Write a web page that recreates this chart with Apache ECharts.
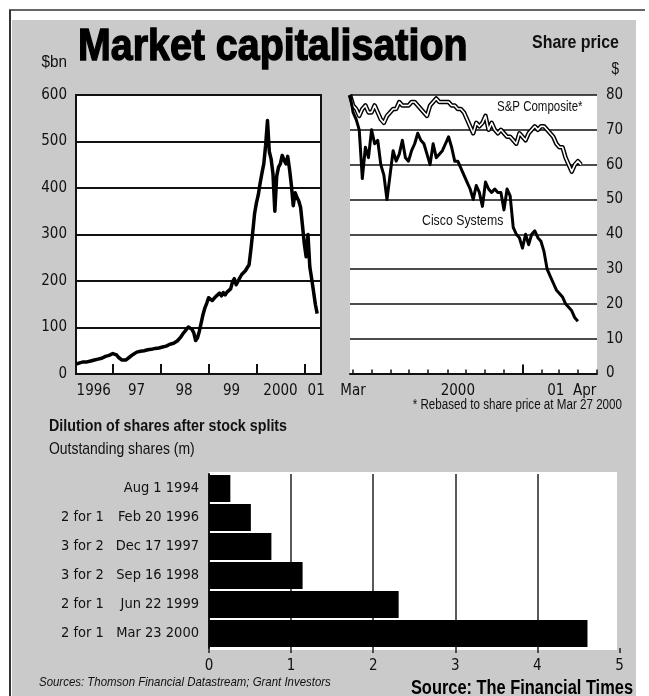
<!DOCTYPE html>
<html><head><meta charset="utf-8">
<script src="https://cdn.jsdelivr.net/npm/echarts@6/dist/echarts.min.js"></script>
<style>html,body{margin:0;padding:0;background:#fff}#c{width:649px;height:696px}</style>
</head><body><div id="c"></div>
<script>
// ---- Market capitalisation, $bn (sampled every 14 days from 26 Mar 1996)
const capStart = Date.UTC(1996, 2, 26);
const capStepDays = 14;
const capValues = [21,22,24,23,26,27,26,29,28,31,30,33,32,35,34,36,38,37,40,42,
  44,47,41,36,33,30,28,30,33,36,39,42,44,47,46,49,48,50,49,52,
  50,53,52,55,53,56,55,58,57,60,62,64,63,66,68,71,75,80,86,91,
  96,101,98,96,88,72,78,92,110,128,142,152,164,166,158,161,167,170,174,168,
  175,170,176,180,183,198,205,192,196,207,214,218,222,226,235,268,305,345,368,385,
  410,432,452,492,545,478,462,430,350,425,445,452,470,460,452,468,440,405,362,390,
  380,372,358,320,280,252,300,230,205,178,150,130];
const capXLabels = ['1996', '97', '98', '99', '2000', '01'];

// ---- Share price, $ (sampled every 5 days from 27 Mar 2000)
const priceStart = Date.UTC(2000, 2, 27);
const priceStepDays = 5;
const ciscoPrice = [80,75,73,70,56,65,62,70,66,67,60,57,50,57,64,61,63,67,62,61,
  64,66,69,67,66,63,60,66,62,63,64,66,68,65,61,61,59,57,55,53,
  50,54,52,48,55,53,52,53,52,52,47,53,51,42,40,39,36,40,37,40,
  41,39,38,35,30,28,26,24,23,22,20,19,18,16,15];
const spComposite = [80,77,76,74,76,77,75,75,77,75,73,72,74,75,76,76,78,77,77,77,
  78,78,77,76,75,74,77,78,79,78,78,78,78,77,77,76,76,75,73,71,
  69,72,71,72,74,70,72,70,69,70,69,68,68,67,66,69,68,67,69,70,
  71,70,71,71,70,69,68,66,65,65,62,60,58,60,61,60];
const priceXLabels = ['Mar', '2000', '01', 'Apr'];

// ---- Dilution of shares after stock splits
const splitRatios = ['', '2 for 1', '3 for 2', '3 for 2', '2 for 1', '2 for 1'];
const splitDates = ['Aug 1 1994', 'Feb 20 1996', 'Dec 17 1997', 'Sep 16 1998', 'Jun 22 1999', 'Mar 23 2000'];
const sharesOutstanding = [0.26, 0.51, 0.76, 1.14, 2.31, 4.61];

// ---- build
const DAY = 86400000;
const capData = capValues.map((v, i) => [capStart + i * capStepDays * DAY, v]);
const ciscoData = ciscoPrice.map((v, i) => [priceStart + i * priceStepDays * DAY, v]);
const spData = spComposite.map((v, i) => [priceStart + i * priceStepDays * DAY, v]);

const capXLabelAt = [Date.UTC(1996,7,8), Date.UTC(1997,5,29), Date.UTC(1998,5,25), Date.UTC(1999,5,22), Date.UTC(2000,5,28), Date.UTC(2001,2,26)];
const capYearTicks = [1997,1998,1999,2000,2001].map(y => Date.UTC(y,0,1));
const priceXLabelAt = [Date.UTC(2000,3,1), Date.UTC(2000,8,18), Date.UTC(2001,1,24), Date.UTC(2001,3,12)];
const monthTicks = [];
for (let m = 3; m <= 16; m++) monthTicks.push(Date.UTC(2000 + Math.floor(m/12), m % 12, 1));

const F = '"DejaVu Sans Condensed","Liberation Sans",sans-serif';
const G = '"Liberation Sans",Arial,sans-serif';
const INK = '#111';
const lbl = (extra) => Object.assign({fontFamily: F, fontSize: 15, color: INK}, extra || {});
// condensed text for annotations (Liberation Sans squeezed horizontally)
const txt = (text, x, y, align, font, sx, extra) => ({
  type: 'text', x: x, y: y, scaleX: sx, scaleY: 1,
  style: Object.assign({text: text, x: 0, y: 0, align: align, verticalAlign: 'middle', fill: INK, font: font}, extra || {})
});

const chart = echarts.init(document.getElementById('c'), null, {renderer: 'canvas'});
chart.setOption({
  animation: false,
  backgroundColor: '#fff',
  grid: [
    {left: 76, top: 95, width: 245, height: 279, show: true, backgroundColor: '#fff', borderColor: '#111', borderWidth: 2},
    {left: 350, top: 95, width: 247, height: 278.5, show: true, backgroundColor: '#fff', borderWidth: 0},
    {left: 209, top: 474, width: 410.5, height: 174, show: false}
  ],
  xAxis: [
    {type: 'value', gridIndex: 0, min: Date.UTC(1996,2,26), max: Date.UTC(2001,4,2),
     axisLine: {show: true, lineStyle: {color: '#111', width: 2}},
     axisTick: {show: true, inside: true, length: 10, customValues: capYearTicks, lineStyle: {color: '#111', width: 2}},
     axisLabel: lbl({margin: 10, customValues: capXLabelAt, formatter: v => { const k = capXLabelAt.indexOf(v); return k < 0 ? '' : capXLabels[k]; }}),
     splitLine: {show: false}},
    {type: 'value', gridIndex: 1, position: 'bottom', min: Date.UTC(2000,2,27), max: Date.UTC(2001,4,2),
     axisLine: {show: true, lineStyle: {color: '#111', width: 2}},
     axisTick: {show: true, inside: true, length: 4, customValues: monthTicks, lineStyle: {color: '#111', width: 1.5}},
     axisLabel: lbl({margin: 10, customValues: priceXLabelAt, formatter: v => { const k = priceXLabelAt.indexOf(v); return k < 0 ? '' : priceXLabels[k]; }}),
     splitLine: {show: false}},
    {type: 'value', gridIndex: 1, position: 'bottom', min: Date.UTC(2000,2,27), max: Date.UTC(2001,4,2),
     axisLine: {show: false},
     axisTick: {show: true, inside: true, length: 9, customValues: [Date.UTC(2001,0,1)], lineStyle: {color: '#111', width: 2}},
     axisLabel: {show: false}, splitLine: {show: false}},
    {type: 'value', gridIndex: 2, min: 0, max: 5, interval: 1,
     axisLine: {show: false},
     axisTick: {show: true, length: 5, lineStyle: {color: '#222', width: 1.5}},
     axisLabel: lbl({margin: 11}),
     splitLine: {show: true, showMinLine: false, showMaxLine: false, lineStyle: {color: '#222', width: 1.5}}}
  ],
  yAxis: [
    {type: 'value', gridIndex: 0, min: 0, max: 600, interval: 100,
     axisLine: {show: true, lineStyle: {color: '#111', width: 2}}, axisTick: {show: false},
     axisLabel: lbl({margin: 9, padding: [0,0,9,0]}),
     splitLine: {show: true, lineStyle: {color: '#111', width: 2}}},
    {type: 'value', gridIndex: 1, position: 'right', min: 0, max: 80, interval: 10,
     axisLine: {show: false}, axisTick: {show: false},
     axisLabel: lbl({margin: 9, padding: [0,0,9,0]}),
     splitLine: {show: true, lineStyle: {color: '#111', width: 1.6}}},
    {type: 'category', gridIndex: 2, inverse: true, data: splitDates,
     axisLine: {show: true, lineStyle: {color: '#111', width: 2}}, axisTick: {show: false},
     axisLabel: {margin: 10, formatter: (v, i) => '{r|' + splitRatios[i] + '}{d|' + v + '}',
       rich: {r: lbl({width: 56, align: 'left', fontSize: 14.5}), d: lbl({width: 82, align: 'right', fontSize: 14.5})}}}
  ],
  series: [
    {type: 'line', name: 'Market capitalisation', xAxisIndex: 0, yAxisIndex: 0, data: capData,
     symbol: 'none', lineStyle: {color: '#000', width: 3.5, join: 'round'}},
    {type: 'line', name: 'S&P Composite outline', xAxisIndex: 1, yAxisIndex: 1, data: spData,
     symbol: 'none', lineStyle: {color: '#000', width: 4.5, join: 'round'}},
    {type: 'line', name: 'S&P Composite', xAxisIndex: 1, yAxisIndex: 1, data: spData,
     symbol: 'none', lineStyle: {color: '#fff', width: 1.6, join: 'round'}},
    {type: 'line', name: 'Cisco Systems', xAxisIndex: 1, yAxisIndex: 1, data: ciscoData,
     symbol: 'none', lineStyle: {color: '#000', width: 3, join: 'round'}},
    {type: 'bar', name: 'Outstanding shares', xAxisIndex: 3, yAxisIndex: 2, data: sharesOutstanding,
     barWidth: 27, itemStyle: {color: '#000'}}
  ],
  graphic: {elements: [
    {type: 'rect', z: -20, shape: {x: 12, y: 20, width: 624, height: 676}, style: {fill: '#cacaca'}},
    {type: 'line', z: -19, shape: {x1: 9, y1: 10, x2: 645, y2: 10}, style: {stroke: '#333', lineWidth: 1.5}},
    {type: 'line', z: -19, shape: {x1: 10, y1: 10, x2: 10, y2: 696}, style: {stroke: '#333', lineWidth: 2}},
    {type: 'rect', z: -10, shape: {x: 209, y: 472, width: 408, height: 178}, style: {fill: '#fff'}},
    txt('Market capitalisation', 78, 48, 'left', 'bold 45px ' + G, 0.875, {fill: '#000', stroke: '#000', lineWidth: 1.4}),
    txt('$bn', 67, 62, 'right', '17px ' + G, 0.9),
    txt('Share price', 619, 43, 'right', 'bold 19px ' + G, 0.84),
    txt('$', 619, 70, 'right', '16px ' + G, 0.85),
    txt('S&P Composite*', 497, 107, 'left', '14px ' + G, 0.82),
    txt('Cisco Systems', 422, 221, 'left', '15px ' + G, 0.82),
    txt('* Rebased to share price at Mar 27 2000', 622, 405, 'right', '14px ' + G, 0.83),
    txt('Dilution of shares after stock splits', 49, 426, 'left', 'bold 17px ' + G, 0.84),
    txt('Outstanding shares (m)', 49, 449, 'left', '17px ' + G, 0.82),
    txt('Sources: Thomson Financial Datastream; Grant Investors', 39, 682, 'left', 'italic 13px ' + G, 0.88),
    txt('Source: The Financial Times', 633, 688, 'right', 'bold 20px ' + G, 0.82, {fill: '#000'})
  ]}
});
</script></body></html>
